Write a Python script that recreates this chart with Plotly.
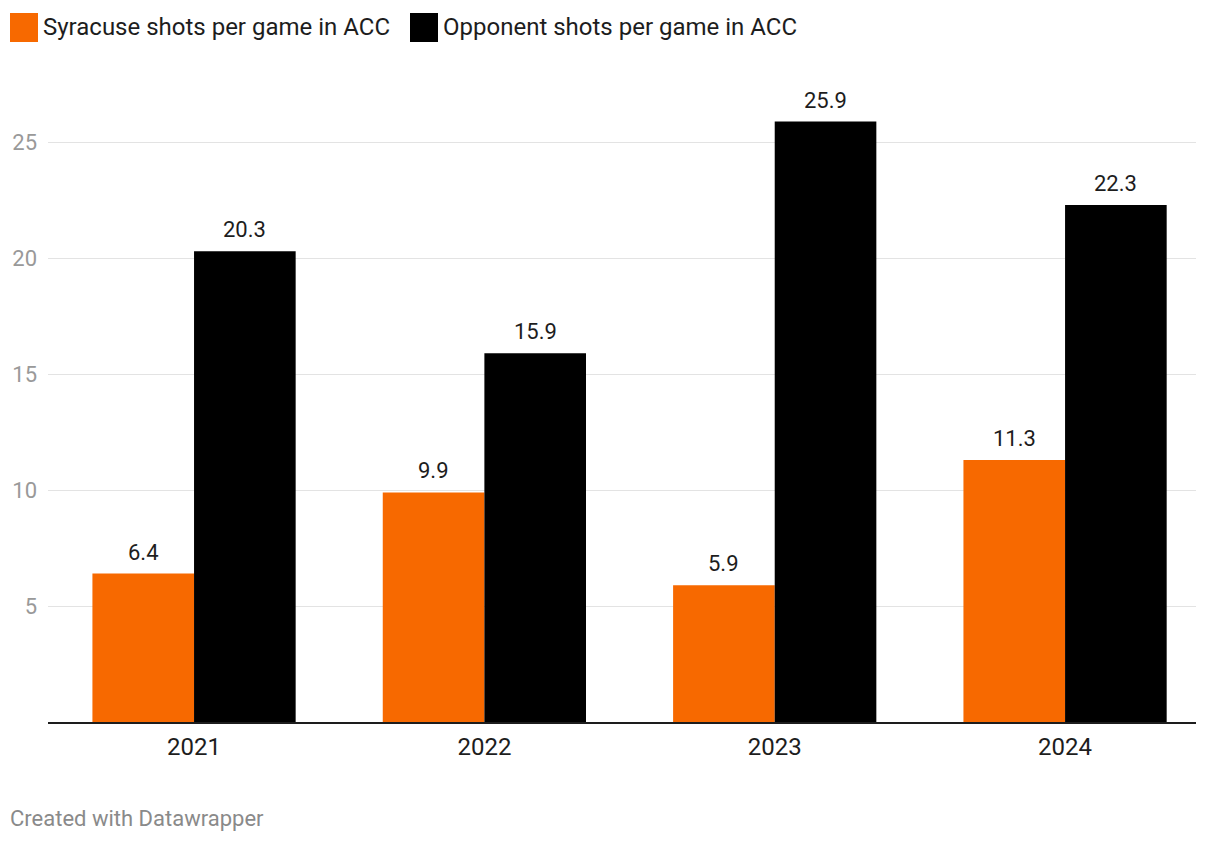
import plotly.graph_objects as go

years = ["2021", "2022", "2023", "2024"]
syracuse = [6.4, 9.9, 5.9, 11.3]
opponent = [20.3, 15.9, 25.9, 22.3]
series_names = ["Syracuse shots per game in ACC", "Opponent shots per game in ACC"]
colors = ["#f76900", "#000000"]
y_ticks = [5, 10, 15, 20, 25]

# page body has an 8px margin; figure coordinates are page coordinates minus 8
OFF = 8
W, H = 1204, 828
L, T = 48 - OFF, 96 - OFF
PW, PH = 1148, 626
R, B = W - L - PW, H - T - PH

def px(x):  # page x -> paper x
    return (x - OFF - L) / PW

def py(y):  # page y -> paper y
    return 1 - (y - OFF - T) / PH

fig = go.Figure()
for name, vals, col in zip(series_names, [syracuse, opponent], colors):
    fig.add_trace(go.Bar(x=years, y=vals, name=name, marker=dict(color=col, line=dict(width=0)),
                         showlegend=False))

# value labels
half = 0.175
for i, y in enumerate(years):
    for off, vals in ((-half, syracuse), (half, opponent)):
        fig.add_annotation(x=i + off, y=vals[i], xref="x", yref="y", text=f"{vals[i]:.1f}",
                           showarrow=False, yanchor="bottom", yshift=7,
                           font=dict(family="Roboto", size=22, color="#1d1d1d"))

# legend
leg_x = [10, 410]
for lx, name, col in zip(leg_x, series_names, colors):
    fig.add_shape(type="rect", xref="paper", yref="paper",
                  x0=px(lx), x1=px(lx + 28), y0=py(42), y1=py(13),
                  fillcolor=col, line=dict(width=0))
    fig.add_annotation(xref="paper", yref="paper", x=px(lx + 31), y=py(27), text=name,
                       showarrow=False, xanchor="left", yanchor="middle",
                       font=dict(family="Roboto", size=24, color="#1d1d1d"))

fig.add_annotation(xref="paper", yref="paper", x=px(8), y=py(818),
                   text="Created with Datawrapper", showarrow=False, xanchor="left", yanchor="middle",
                   font=dict(family="Roboto", size=22, color="#8a8a8a"))

fig.update_layout(
    width=W, height=H, margin=dict(l=L, r=R, t=T, b=B, autoexpand=False),
    plot_bgcolor="white", paper_bgcolor="white",
    barmode="group", bargap=0.3, bargroupgap=0,
    xaxis=dict(type="category", range=[-0.503, 3.451], showgrid=False, showline=True,
               linecolor="#1d1d1d", linewidth=2, ticks="", ticklabelstandoff=2,
               tickfont=dict(family="Roboto", size=24, color="#1d1d1d")),
    yaxis=dict(range=[0, 27], tickvals=y_ticks, showgrid=True, gridcolor="#e3e3e3", gridwidth=1,
               zeroline=False, showline=False, ticks="", ticklabelstandoff=10,
               tickfont=dict(family="Roboto", size=22, color="#999999")),
)

fig.write_html("out.html")
